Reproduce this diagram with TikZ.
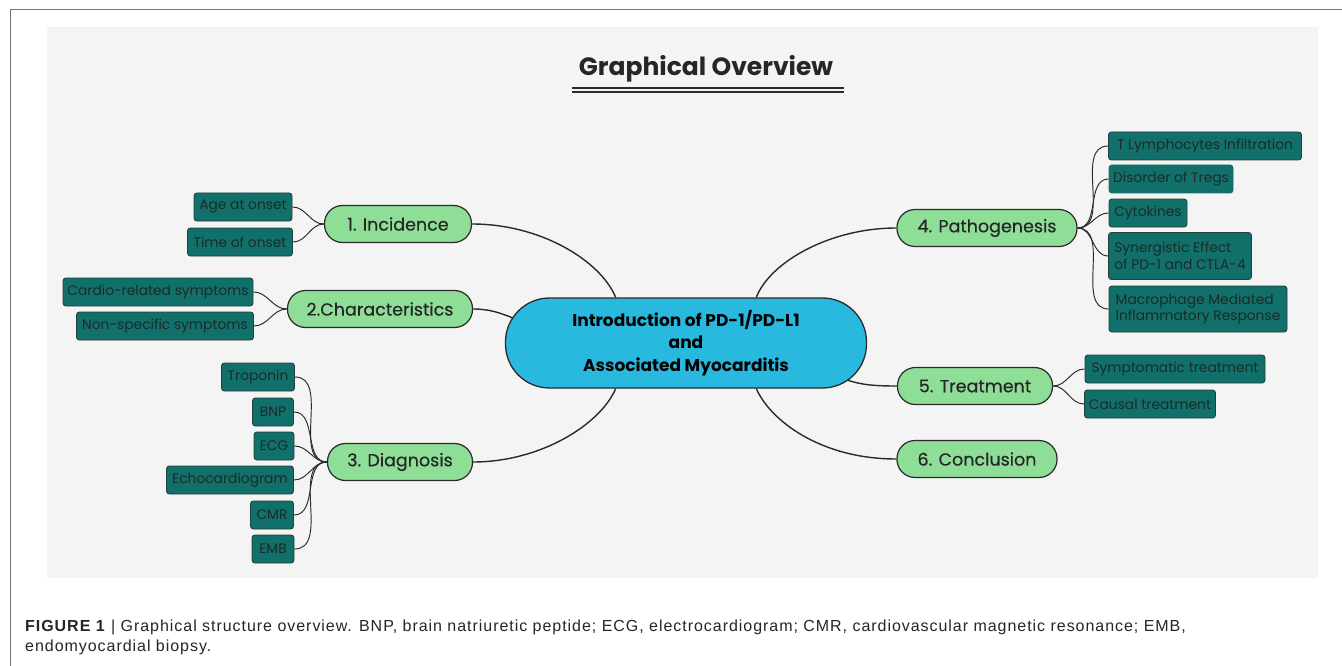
\documentclass[tikz,border=0pt]{standalone}
\usepackage{fontspec}
\setmainfont{Poppins}
\newfontfamily\medfont[FakeBold=0.4]{Poppins}
\newfontfamily\capfont[LetterSpace=6]{Liberation Sans}
\usetikzlibrary{backgrounds}
\definecolor{panel}{HTML}{F4F4F4}
\definecolor{cyanbox}{HTML}{29B9DF}
\definecolor{greenbox}{HTML}{8EDE97}
\definecolor{tealbox}{HTML}{11706A}
\definecolor{edge}{HTML}{2A2A2A}
\definecolor{leaftext}{HTML}{1B2B29}
\definecolor{framegray}{HTML}{777777}
\begin{document}
\begin{tikzpicture}[x=1pt,y=-1pt,
 hub/.style={draw=edge, line width=1.3pt, fill=cyanbox, rounded corners=44pt, minimum width=361pt, minimum height=90pt, align=center, font=\fontsize{17}{22.5}\selectfont\bfseries, inner sep=0pt},
 topic/.style={draw=edge, line width=1.2pt, fill=greenbox, rounded corners=18pt, minimum height=37pt, font=\medfont\fontsize{17.5}{20}\selectfont, text=black!85, inner sep=0pt},
 leaf/.style={draw=edge!70!tealbox, line width=0.9pt, fill=tealbox, rounded corners=3pt, minimum height=28pt, font=\fontsize{13.8}{16.5}\selectfont, text=leaftext, inner sep=0pt, align=left},
 link/.style={draw=edge, line width=1.4pt},
 twig/.style={draw=edge, line width=0.95pt}
]
\useasboundingbox (0,0) rectangle (1342,666);
% title
\node[font=\fontsize{25}{28}\selectfont\bfseries, text=black!85] (title) at (706,69) {Graphical Overview};
\draw[edge, line width=1.3pt] (572,88) -- (844,88);
\draw[edge, line width=1.3pt] (572,92) -- (844,92);
% hub
\node[hub] (hub) at (686,343) {Introduction of PD-1/PD-L1\\and\\Associated Myocarditis};
\coordinate (hubL) at (513,318);
\coordinate (hubR) at (847,380);
% topics
\node[topic, minimum width=147pt] (inc) at (398,224) {1. Incidence};
\node[topic, minimum width=185pt] (chr) at (380,309) {2.Characteristics};
\node[topic, minimum width=145pt] (dia) at (400,462) {3. Diagnosis};
\node[topic, minimum width=180pt] (pat) at (987,228) {4. Pathogenesis};
\node[topic, minimum width=155pt] (tre) at (975,386) {5. Treatment};
\node[topic, minimum width=160pt] (con) at (977,459) {6. Conclusion};
% leaves left
\node[leaf, minimum width=98pt] (age) at (243,207) {Age at onset};
\node[leaf, minimum width=105pt] (tim) at (240,242) {Time of onset};
\node[leaf, minimum width=190pt] (car) at (158,292) {Cardio-related symptoms};
\node[leaf, minimum width=177pt] (non) at (165,326) {Non-specific symptoms};
\node[leaf, minimum width=73pt] (tro) at (258,377) {Troponin};
\node[leaf, minimum width=41pt] (bnp) at (273,412) {BNP};
\node[leaf, minimum width=40pt] (ecg) at (274,446) {ECG};
\node[leaf, minimum width=127pt] (ech) at (230,480) {Echocardiogram};
\node[leaf, minimum width=43pt] (cmr) at (272,515) {CMR};
\node[leaf, minimum width=42pt] (emb) at (273,549) {EMB};
% leaves right
\node[leaf, minimum width=193pt] (tly) at (1205,146) {T Lymphocytes Infiltration};
\node[leaf, minimum width=124pt, draw=tealbox] (tre2) at (1171,179) {Disorder of Tregs};
\node[leaf, minimum width=78pt] (cyt) at (1148,213) {Cytokines};
\node[leaf, minimum width=143pt, minimum height=47pt] (syn) at (1180,256) {Synergistic Effect\\of PD-1 and CTLA-4};
\node[leaf, minimum width=178pt, minimum height=46pt] (mac) at (1198,309) {Macrophage Mediated\\Inflammatory Response};
\node[leaf, minimum width=180pt] (sym) at (1175,369) {Symptomatic treatment};
\node[leaf, minimum width=131pt] (cau) at (1150,404) {Causal treatment};
% connectors and backdrop
\begin{scope}[on background layer]
\fill[white] (0,0) rectangle (1342,666);
\draw[framegray, line width=1pt] (10,666) -- (10,10) -- (1342,10);
\fill[panel] (47,27) rectangle (1318,578);
\draw[link] (inc.east) .. controls (540,224) and (600,260) .. (hub.147);
\draw[link] (chr.east) .. controls (490,309) and (500,313) .. (hubL);
\draw[link] (dia.east) .. controls (540,462) and (600,425) .. (hub.213);
\draw[link] (pat.west) .. controls (830,228) and (770,262) .. (hub.33);
\draw[link] (tre.west) .. controls (875,386) and (862,385) .. (hubR);
\draw[link] (con.west) .. controls (820,459) and (770,420) .. (hub.327);
\foreach \l in {age,tim}{\draw[twig] (inc.west) to[out=180,in=0] (\l.east);}
\foreach \l in {car,non}{\draw[twig] (chr.west) to[out=180,in=0] (\l.east);}
\foreach \l in {tro,bnp,ecg,ech,cmr,emb}{\draw[twig] (dia.west) to[out=180,in=0] (\l.east);}
\foreach \l in {tly,tre2,cyt,syn,mac}{\draw[twig] (pat.east) to[out=0,in=180] (\l.west);}
\foreach \l in {sym,cau}{\draw[twig] (tre.east) to[out=0,in=180] (\l.west);}
\end{scope}
% caption
\node[anchor=base west, inner sep=0pt, font=\capfont\fontsize{16}{20}\selectfont, text=black!85] (cap1) at (25,631) {\textbf{FIGURE 1} | Graphical structure overview. BNP, brain natriuretic peptide; ECG, electrocardiogram; CMR, cardiovascular magnetic resonance; EMB,};
\node[anchor=base west, inner sep=0pt, font=\capfont\fontsize{16}{20}\selectfont, text=black!85] (cap2) at (25,651) {endomyocardial biopsy.};
\end{tikzpicture}
\end{document}
